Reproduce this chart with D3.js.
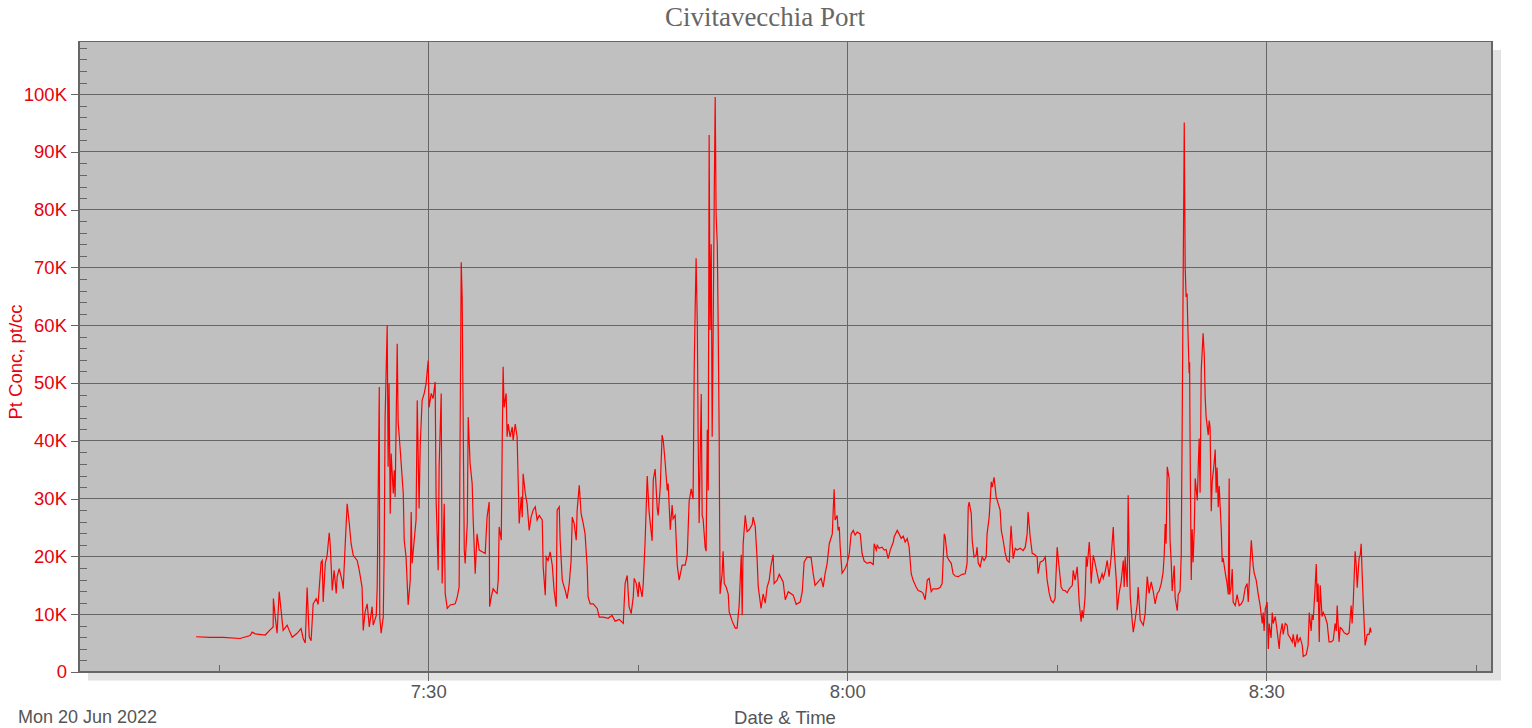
<!DOCTYPE html>
<html><head><meta charset="utf-8">
<script src="https://cdn.jsdelivr.net/npm/d3@7/dist/d3.min.js"></script>
<style>body{margin:0;background:#fff}svg{display:block}</style>
</head><body>
<svg id="chart" width="1532" height="728"></svg>
<script>
// ---- data ----
const chartTitle = "Civitavecchia Port";
const yAxisTitle = "Pt Conc, pt/cc";
const xAxisTitle = "Date & Time";
const dateCaption = "Mon 20 Jun 2022";
const yTickValuesK = [0, 10, 20, 30, 40, 50, 60, 70, 80, 90, 100];
const xMajorTimes = ["07:30", "08:00", "08:30"];
const xMinorTimes = ["07:15", "07:45", "08:15", "08:45"];
const xDomainTimes = ["07:05:00", "08:46:10"];
const yDomainK = [0, 109.1];
// readings: [seconds after 07:00:00, concentration in thousands pt/cc]
const readings = [
[803,6.1],[863,6.0],[919,6.0],[992,5.8],[1035,6.3],[1044,6.9],[1057,6.6],[1100,6.4],[1121,7.3],[1134,7.8],
[1135,12.7],[1143,9.5],[1151,6.7],[1160,13.9],[1168,10.7],[1177,7.2],[1194,8.1],[1203,7.2],[1216,6.0],[1237,6.7],
[1254,7.5],[1263,5.8],[1272,5.0],[1280,14.6],[1289,6.1],[1297,5.4],[1306,11.8],[1319,12.7],[1327,11.7],[1340,19.0],
[1345,19.3],[1349,12.1],[1358,18.8],[1366,20.2],[1375,24.1],[1379,22.2],[1388,14.1],[1396,17.6],[1405,13.6],[1409,16.5],
[1418,17.9],[1431,15.6],[1435,14.4],[1443,21.6],[1452,29.1],[1461,25.7],[1469,22.2],[1478,20.2],[1495,19.3],[1504,17.6],
[1516,14.7],[1521,7.2],[1529,10.4],[1538,11.8],[1547,7.8],[1559,11.3],[1564,8.1],[1577,9.8],[1581,14.7],[1590,49.3],
[1592,9.5],[1598,6.7],[1607,9.5],[1611,20.5],[1615,44.1],[1624,60.0],[1628,35.5],[1632,49.9],[1637,27.4],[1641,37.8],
[1650,30.9],[1654,34.9],[1658,30.3],[1667,56.8],[1671,43.3],[1680,38.4],[1693,30.9],[1697,22.8],[1705,19.9],[1714,11.6],
[1723,15.9],[1727,27.7],[1731,18.8],[1740,22.8],[1748,26.3],[1753,47.0],[1761,28.3],[1766,39.5],[1774,47.0],[1783,48.2],
[1791,49.9],[1800,53.9],[1804,45.8],[1813,48.2],[1821,47.3],[1830,50.2],[1834,30.0],[1843,17.6],[1847,35.5],[1856,48.2],
[1860,15.3],[1869,29.1],[1873,13.6],[1882,11.0],[1895,11.6],[1916,11.8],[1925,13.0],[1933,14.7],[1942,70.9],[1946,64.9],
[1955,21.1],[1959,18.8],[1968,25.7],[1972,44.1],[1980,36.1],[1989,32.6],[1993,26.8],[2002,17.0],[2010,23.9],[2019,21.1],
[2032,20.8],[2045,20.5],[2053,26.8],[2062,29.4],[2064,11.3],[2071,13.0],[2079,14.4],[2088,13.9],[2096,13.6],[2101,15.9],
[2105,25.1],[2114,22.8],[2118,39.5],[2122,52.8],[2126,45.8],[2135,48.2],[2139,40.7],[2144,42.9],[2152,40.7],[2161,42.4],
[2165,40.1],[2174,42.9],[2182,40.7],[2187,32.6],[2191,25.7],[2200,30.3],[2204,26.8],[2208,34.3],[2217,30.9],[2225,29.1],
[2234,24.5],[2242,26.8],[2251,28.0],[2260,28.6],[2268,26.3],[2277,27.1],[2290,26.3],[2294,18.2],[2303,13.3],[2307,19.9],
[2315,19.3],[2324,20.8],[2333,18.5],[2341,14.1],[2350,11.3],[2354,28.0],[2363,28.6],[2367,22.8],[2376,15.9],[2380,15.3],
[2389,14.1],[2397,12.7],[2406,15.3],[2414,19.3],[2419,26.8],[2427,25.7],[2436,22.8],[2440,28.0],[2449,32.3],[2457,27.4],
[2466,25.7],[2474,23.9],[2483,18.2],[2487,13.0],[2496,11.8],[2509,11.8],[2526,11.0],[2535,9.5],[2552,9.5],[2573,9.3],
[2590,9.8],[2603,8.8],[2621,9.1],[2638,8.4],[2646,15.3],[2655,16.7],[2663,11.3],[2672,10.1],[2681,13.0],[2685,16.2],
[2694,15.3],[2702,13.0],[2706,15.6],[2719,13.0],[2724,15.3],[2732,22.7],[2741,33.9],[2749,27.7],[2762,22.7],[2767,33.3],
[2775,35.1],[2784,28.3],[2788,27.1],[2797,32.0],[2805,41.0],[2810,40.0],[2818,36.3],[2827,31.4],[2831,32.6],[2840,24.6],
[2848,28.9],[2852,26.5],[2861,27.1],[2870,18.5],[2878,15.9],[2891,18.5],[2904,18.5],[2913,20.3],[2921,29.5],[2930,31.7],
[2938,29.9],[2943,53.0],[2947,62.9],[2951,71.6],[2956,60.4],[2960,40.0],[2964,25.8],[2973,48.1],[2977,27.1],[2981,26.5],
[2990,21.5],[2994,20.9],[2999,41.9],[3003,31.4],[3007,92.9],[3011,59.2],[3016,74.0],[3020,40.7],[3024,58.0],[3029,82.7],
[3033,99.5],[3037,79.0],[3042,74.0],[3046,59.2],[3050,41.3],[3052,25.8],[3054,13.5],[3063,17.2],[3067,20.9],[3072,15.3],
[3080,14.7],[3089,13.5],[3093,10.4],[3106,8.8],[3119,7.6],[3127,7.6],[3136,11.6],[3145,20.3],[3149,9.8],[3153,22.1],
[3162,27.1],[3170,24.3],[3179,24.6],[3192,25.5],[3196,26.8],[3205,25.2],[3213,19.6],[3218,14.7],[3230,11.0],[3239,13.5],
[3248,11.9],[3256,14.7],[3265,15.9],[3273,18.5],[3282,20.3],[3286,15.3],[3299,15.9],[3308,16.9],[3321,15.9],[3325,15.6],
[3334,12.5],[3347,13.9],[3368,13.3],[3381,11.7],[3398,12.1],[3407,13.9],[3415,19.0],[3428,19.9],[3445,19.8],[3454,17.0],
[3462,15.0],[3475,15.6],[3488,16.2],[3497,14.7],[3505,17.0],[3514,18.8],[3523,22.2],[3536,23.9],[3540,28.0],[3544,31.6],
[3548,26.3],[3557,27.1],[3561,24.5],[3566,25.1],[3570,21.6],[3578,17.1],[3591,17.9],[3600,18.8],[3609,20.5],[3617,23.9],
[3626,24.5],[3634,23.7],[3643,24.2],[3656,23.9],[3664,20.5],[3673,19.2],[3686,18.8],[3699,19.0],[3712,18.6],[3716,22.2],
[3725,21.1],[3729,21.9],[3737,21.4],[3750,21.6],[3759,21.1],[3767,21.2],[3776,19.6],[3785,21.1],[3798,22.5],[3802,23.4],
[3815,24.5],[3823,23.9],[3832,23.1],[3841,23.5],[3849,22.5],[3858,23.1],[3866,21.6],[3875,17.0],[3883,15.9],[3896,14.7],
[3905,14.1],[3918,13.9],[3926,13.6],[3935,12.5],[3944,15.9],[3952,16.2],[3961,13.9],[3969,14.4],[3987,14.4],[3999,14.6],
[4008,15.3],[4017,23.9],[4021,23.4],[4030,19.9],[4038,19.3],[4047,18.8],[4055,17.0],[4064,16.6],[4077,16.5],[4094,16.9],
[4107,17.0],[4115,18.8],[4120,28.6],[4124,29.4],[4133,27.4],[4137,22.8],[4145,19.9],[4154,20.2],[4158,21.6],[4163,18.8],
[4171,18.2],[4180,19.9],[4188,19.3],[4197,19.9],[4201,23.9],[4210,26.8],[4219,32.9],[4223,32.0],[4231,33.7],[4240,30.3],
[4249,29.1],[4257,28.0],[4262,24.5],[4270,22.8],[4279,20.5],[4287,19.3],[4296,19.0],[4304,25.3],[4313,19.6],[4322,21.4],
[4330,21.1],[4343,21.4],[4356,21.0],[4365,21.6],[4373,23.9],[4377,27.7],[4386,23.4],[4395,20.5],[4403,20.4],[4416,19.9],
[4420,17.0],[4429,19.0],[4442,19.3],[4451,19.9],[4459,15.9],[4468,13.6],[4476,12.4],[4485,12.0],[4493,12.7],[4502,21.6],
[4506,19.9],[4519,14.7],[4528,14.1],[4536,14.1],[4545,13.7],[4554,14.4],[4567,15.0],[4571,17.6],[4579,15.9],[4588,18.2],
[4592,15.6],[4597,11.8],[4605,8.7],[4609,10.7],[4614,9.3],[4622,13.0],[4627,20.0],[4631,18.2],[4640,22.5],[4644,19.9],
[4648,15.3],[4657,20.2],[4665,18.8],[4674,17.0],[4683,15.3],[4695,17.0],[4700,16.2],[4708,17.3],[4717,19.3],[4725,16.5],
[4734,19.9],[4743,25.1],[4747,21.1],[4756,15.9],[4760,10.7],[4768,13.6],[4777,15.6],[4786,19.3],[4790,14.7],[4794,19.9],
[4803,14.7],[4807,30.6],[4811,21.1],[4816,13.0],[4824,9.0],[4829,6.9],[4837,9.0],[4846,11.8],[4850,14.7],[4859,9.0],
[4872,8.1],[4880,10.1],[4889,16.5],[4897,13.6],[4906,15.6],[4914,14.1],[4923,11.8],[4932,13.6],[4940,14.0],[4949,15.3],
[4957,17.2],[4962,20.3],[4966,25.6],[4970,22.2],[4975,35.5],[4983,33.5],[4987,22.8],[4992,19.0],[4996,14.0],[5005,18.4],
[5009,12.8],[5018,10.6],[5022,13.4],[5030,14.0],[5035,20.3],[5039,42.3],[5043,66.1],[5048,95.1],[5052,69.9],[5056,64.9],
[5060,65.5],[5065,57.3],[5069,51.7],[5071,53.6],[5073,39.8],[5078,15.9],[5082,24.7],[5086,19.0],[5091,24.7],[5095,33.5],
[5104,29.7],[5108,35.4],[5112,40.4],[5116,31.0],[5121,52.3],[5129,58.6],[5134,54.8],[5138,47.3],[5142,44.1],[5151,41.0],
[5155,43.5],[5159,42.3],[5164,27.8],[5168,32.9],[5176,36.0],[5181,38.5],[5185,31.0],[5189,35.4],[5194,28.5],[5198,32.2],
[5207,24.7],[5211,19.0],[5215,19.7],[5224,17.2],[5232,15.3],[5237,13.4],[5241,33.5],[5243,13.4],[5249,14.6],[5254,17.8],
[5258,12.1],[5267,11.5],[5275,13.4],[5284,11.5],[5293,11.8],[5301,12.4],[5310,14.6],[5318,15.3],[5323,12.1],[5331,19.0],
[5336,22.8],[5344,18.4],[5348,17.2],[5357,15.9],[5366,13.4],[5374,11.5],[5383,8.4],[5387,10.3],[5391,7.1],[5396,10.9],
[5404,12.1],[5409,4.0],[5413,8.4],[5421,5.9],[5426,10.3],[5430,8.4],[5439,9.6],[5447,7.1],[5456,4.0],[5460,6.5],
[5469,8.4],[5473,6.5],[5482,8.4],[5490,8.1],[5494,6.5],[5503,5.9],[5512,5.2],[5516,6.5],[5524,4.3],[5533,6.5],
[5537,5.2],[5546,5.9],[5555,4.6],[5559,2.7],[5572,3.0],[5580,4.6],[5585,10.3],[5593,7.1],[5597,9.9],[5602,9.0],
[5610,14.6],[5615,18.7],[5619,12.1],[5623,15.3],[5628,5.2],[5632,15.0],[5640,9.6],[5645,10.3],[5653,9.6],[5662,8.4],
[5670,5.2],[5679,5.2],[5688,5.5],[5696,8.4],[5701,7.1],[5705,11.5],[5713,5.2],[5718,7.7],[5726,7.4],[5735,6.8],
[5748,6.5],[5756,6.8],[5765,11.5],[5769,8.4],[5774,12.1],[5782,20.9],[5787,18.4],[5791,14.6],[5799,19.7],[5804,20.3],
[5808,22.2],[5812,17.2],[5817,12.1],[5825,4.6],[5834,6.5],[5842,6.5],[5847,7.7],[5851,6.8]
];

// ---- drawing ----
const day = [2022, 5, 20];
const atTime = s => { const [h, m, sec] = s.split(":").map(Number); return new Date(day[0], day[1], day[2], h, m, sec || 0); };
const base = atTime("07:00:00");
const points = readings.map(([s, v]) => ({ t: new Date(base.getTime() + s * 1000), v }));

const L = 79, R = 1492, T = 41.5, B = 672;
const svg = d3.select("#chart");
const x = d3.scaleTime().domain(xDomainTimes.map(atTime)).range([L, R]);
const y = d3.scaleLinear().domain(yDomainK).range([B, T]);
const axisCol = "#666666";
const sans = "'Liberation Sans', Arial, sans-serif";

// shadow + plot background
svg.append("rect").attr("x", L + 9).attr("y", T + 8.5).attr("width", R - L).attr("height", B - T).attr("fill", "#e2e2e2");
svg.append("rect").attr("x", L).attr("y", T).attr("width", R - L).attr("height", B - T).attr("fill", "#c0c0c0");

// gridlines
const grid = svg.append("g").attr("stroke", axisCol).attr("stroke-width", 1).attr("shape-rendering", "crispEdges");
yTickValuesK.filter(v => v > 0).forEach(v => grid.append("line").attr("x1", L).attr("x2", R).attr("y1", y(v)).attr("y2", y(v)));
xMajorTimes.map(atTime).forEach(t => grid.append("line").attr("x1", x(t)).attr("x2", x(t)).attr("y1", T).attr("y2", B));

// data line
svg.append("clipPath").attr("id", "clip").append("rect").attr("x", L).attr("y", T).attr("width", R - L).attr("height", B - T);
svg.append("path").datum(points).attr("clip-path", "url(#clip)")
  .attr("fill", "none").attr("stroke", "#ff0000").attr("stroke-width", 1.2).attr("stroke-linejoin", "miter")
  .attr("d", d3.line().x(d => x(d.t)).y(d => y(d.v)));

// frame
svg.append("rect").attr("x", L).attr("y", T).attr("width", R - L).attr("height", B - T)
  .attr("fill", "none").attr("stroke", axisCol).attr("stroke-width", 1.2).attr("shape-rendering", "crispEdges");

// y axis (major ticks outside, minor ticks inside)
const yAxis = d3.axisLeft(y).tickValues(yTickValuesK).tickSize(8).tickPadding(4).tickFormat(d => d === 0 ? "0" : d + "K");
const gy = svg.append("g").attr("transform", `translate(${L},0)`).call(yAxis);
gy.select(".domain").remove();
gy.selectAll("line").attr("stroke", axisCol).attr("shape-rendering", "crispEdges");
gy.selectAll("text").attr("fill", "#e8000b").attr("font-family", sans).attr("font-size", "18.5px");
const yMinor = d3.range(2, 109, 2).filter(v => v % 10 !== 0);
const gyMinor = svg.append("g").attr("transform", `translate(${L},0)`)
  .call(d3.axisRight(y).tickValues(yMinor).tickSize(8).tickFormat(""));
gyMinor.select(".domain").remove();
gyMinor.selectAll("line").attr("stroke", axisCol).attr("shape-rendering", "crispEdges");

// x axis
const xAxis = d3.axisBottom(x).tickValues(xMajorTimes.map(atTime)).tickSize(9).tickPadding(4).tickFormat(d3.timeFormat("%-H:%M"));
const gx = svg.append("g").attr("transform", `translate(0,${B})`).call(xAxis);
gx.select(".domain").remove();
gx.selectAll("line").attr("stroke", axisCol).attr("shape-rendering", "crispEdges");
gx.selectAll("text").attr("fill", "#555555").attr("font-family", sans).attr("font-size", "18.5px");
const gxMinor = svg.append("g").attr("transform", `translate(0,${B})`)
  .call(d3.axisTop(x).tickValues(xMinorTimes.map(atTime)).tickSize(7).tickFormat(""));
gxMinor.select(".domain").remove();
gxMinor.selectAll("line").attr("stroke", axisCol).attr("shape-rendering", "crispEdges");

// titles
svg.append("text").attr("x", 765).attr("y", 26).attr("text-anchor", "middle")
  .attr("font-family", "'Liberation Serif', 'Times New Roman', serif").attr("font-size", "27px").attr("fill", "#666666").text(chartTitle);
svg.append("text").attr("transform", `translate(22,362) rotate(-90)`).attr("text-anchor", "middle")
  .attr("font-family", sans).attr("font-size", "18.5px").attr("fill", "#e8000b").text(yAxisTitle);
svg.append("text").attr("x", 785).attr("y", 724).attr("text-anchor", "middle")
  .attr("font-family", sans).attr("font-size", "18.5px").attr("fill", "#555555").text(xAxisTitle);
svg.append("text").attr("x", 18).attr("y", 723).attr("font-family", sans).attr("font-size", "18px").attr("fill", "#555555").text(dateCaption);
</script>
</body></html>
